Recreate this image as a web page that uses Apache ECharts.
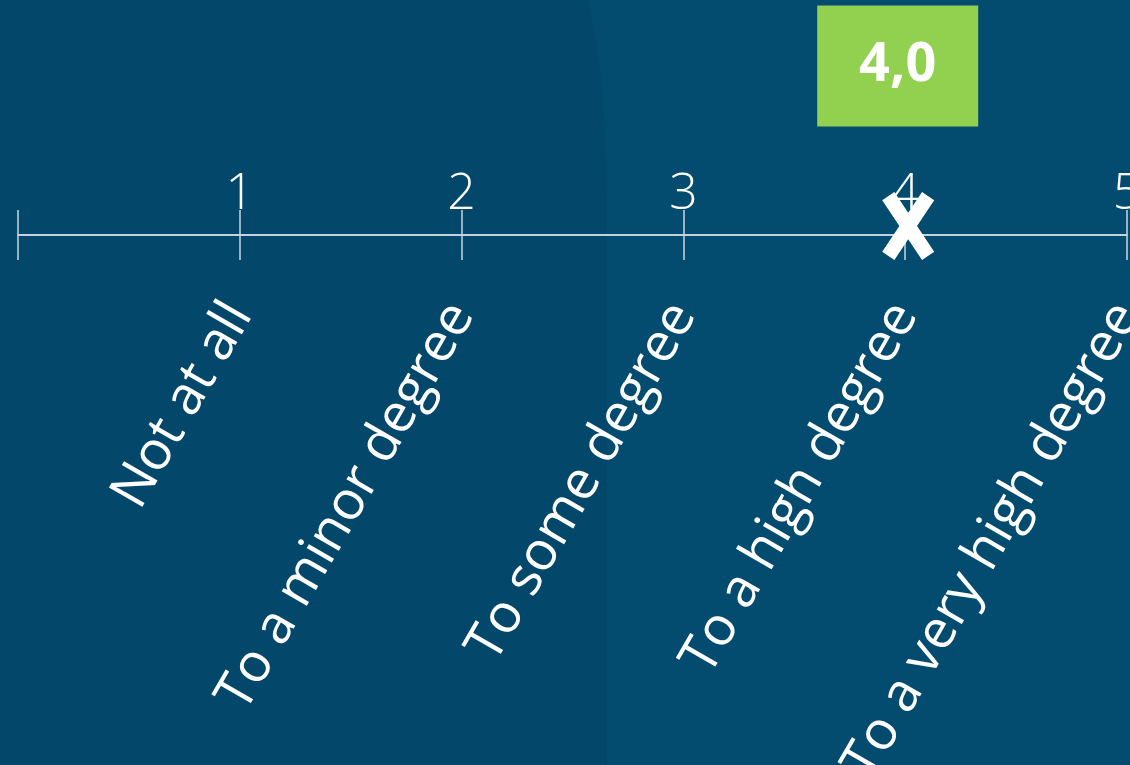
<!DOCTYPE html>
<html>
<head>
<meta charset="utf-8">
<script src="https://cdn.jsdelivr.net/npm/echarts@6/dist/echarts.min.js"></script>
<style>
html,body{margin:0;padding:0;background:#03486a;}
#chart{width:1130px;height:765px;}
</style>
</head>
<body>
<div id="chart"></div>
<script>
// ---- data ----
const tickValues = [0, 1, 2, 3, 4, 5];
const tickLabels = ['', '1', '2', '3', '4', '5'];
const categories = ['', 'Not at all', 'To a minor degree', 'To some degree', 'To a high degree', 'To a very high degree'];
const score = 4.0;
const scoreLabel = score.toFixed(1).replace('.', ',');

const FONT = 'Open Sans';
const chart = echarts.init(document.getElementById('chart'), null, {renderer: 'canvas'});

function labelFor(arr, v) {
  const i = tickValues.indexOf(Math.round(v));
  return i >= 0 ? arr[i] : '';
}

const xPath = 'path://M13.8,1.07L51.8,57.1L40.2,64.9L2.2,8.93Z M40.2,1.07L51.8,8.93L13.8,64.9L2.2,57.1Z';

const option = {
  backgroundColor: '#03486a',
  animation: false,
  graphic: [{
    type: 'polygon',
    z: -10,
    silent: true,
    shape: {points: [[588,0],[596,40],[601,80],[604,120],[606,160],[607,200],[607,765],[1130,765],[1130,0]]},
    style: {fill: '#034c6f'}
  }],
  grid: {left: 18, right: 3, top: 66, height: 169, containLabel: false, outerBoundsMode: 'none'},
  xAxis: [{
    type: 'value',
    min: 0, max: 5, interval: 1,
    position: 'bottom',
    splitLine: {show: false},
    axisLine: {show: true, lineStyle: {color: '#ffffff', width: 1.5}},
    axisTick: {show: true, length: 25, lineStyle: {color: '#c9d6de', width: 1.5}},
    axisLabel: {
      show: true, rotate: 60, margin: 72,
      color: '#ffffff', fontFamily: FONT, fontSize: 54,
      showMinLabel: true, showMaxLabel: true, hideOverlap: false,
      formatter: v => labelFor(categories, v)
    }
  }, {
    type: 'value',
    min: 0, max: 5, interval: 1,
    position: 'bottom',
    splitLine: {show: false},
    axisLine: {show: false},
    axisTick: {show: true, inside: true, length: 25, lineStyle: {color: '#c9d6de', width: 1.5}},
    axisLabel: {
      show: true, inside: true, margin: 15,
      color: '#ffffff', fontFamily: FONT, fontSize: 50, fontWeight: 300,
      showMinLabel: true, showMaxLabel: true, hideOverlap: false,
      formatter: v => labelFor(tickLabels, v)
    }
  }],
  yAxis: {type: 'value', min: 0, max: 1, show: false},
  series: [{
    type: 'scatter',
    name: 'score',
    clip: false,
    z: 5,
    data: [[score, 0]],
    symbol: xPath,
    symbolSize: [52, 68],
    symbolOffset: [3, -9],
    itemStyle: {color: '#ffffff', opacity: 1},
    markLine: {
      silent: true,
      symbol: ['none', 'none'],
      label: {show: false},
      z: 3,
      lineStyle: {color: '#c9d6de', width: 2, type: 'solid'},
      data: [[{coord: [score, 0.6036]}, {coord: [score, -0.1775]}]]
    }
  }, {
    type: 'scatter',
    name: 'box',
    clip: false,
    data: [[score, 1]],
    symbol: 'rect',
    symbolSize: [161, 121],
    symbolOffset: [-7.5, 0],
    itemStyle: {color: '#92d050', opacity: 1},
    label: {
      show: true, position: 'inside',
      color: '#ffffff', fontFamily: FONT, fontSize: 54, fontWeight: 'bold',
      formatter: () => scoreLabel
    }
  }]
};
chart.setOption(option);
</script>
</body>
</html>
